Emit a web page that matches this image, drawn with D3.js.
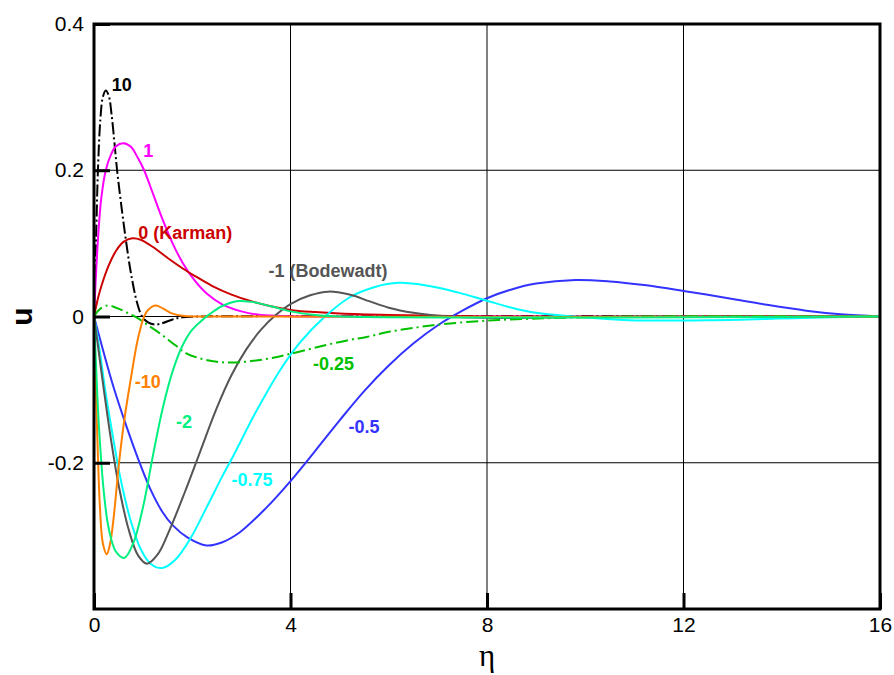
<!DOCTYPE html>
<html>
<head>
<meta charset="utf-8">
<script src="https://cdn.jsdelivr.net/npm/d3@7"></script>
<style>
  body { margin: 0; background: #fff; }
  svg { font-family: "Liberation Sans", Arial, sans-serif; }
</style>
</head>
<body>
<svg id="chart" width="894" height="675"></svg>
<script>
// values, [eta, u]
const sP10 = [[0,0],[0.04,0.1],[0.08,0.2],[0.13,0.27],[0.18,0.3],[0.24,0.309],[0.3,0.302],[0.36,0.275],[0.42,0.235],[0.47,0.2],[0.55,0.155],[0.64,0.109],[0.75,0.06],[0.88,0.018],[0.98,0],[1.1,-0.008],[1.25,-0.011],[1.4,-0.009],[1.6,-0.004],[1.8,-0.001],[2.2,0],[16,0]];
const sP1 = [[0,0],[0.05,0.07],[0.1,0.125],[0.15,0.163],[0.24,0.2],[0.35,0.222],[0.45,0.233],[0.6,0.237],[0.75,0.232],[0.9,0.216],[1.02,0.2],[1.2,0.168],[1.4,0.132],[1.6,0.1],[1.8,0.074],[2.04,0.05],[2.3,0.031],[2.6,0.017],[3.0,0.007],[3.4,0.002],[4,0.0005],[5,0],[16,0]];
const sP0 = [[0,0],[0.1,0.03],[0.2,0.052],[0.3,0.07],[0.45,0.09],[0.6,0.102],[0.78,0.107],[0.95,0.105],[1.2,0.095],[1.5,0.08],[1.8,0.066],[2.04,0.056],[2.4,0.042],[2.8,0.03],[3.2,0.021],[3.6,0.014],[4,0.009],[4.5,0.006],[5,0.004],[6,0.002],[7,0.001],[8,0],[16,0]];
const sM025 = [[0,0],[0.1,0.009],[0.27,0.015],[0.45,0.012],[0.65,0.006],[0.88,-0.002],[1.1,-0.012],[1.36,-0.024],[1.65,-0.039],[1.9,-0.051],[2.2,-0.058],[2.5,-0.062],[2.8,-0.063],[3.2,-0.061],[3.6,-0.057],[4,-0.051],[4.6,-0.041],[5.2,-0.032],[5.55,-0.028],[6.0,-0.021],[6.9,-0.012],[7.9,-0.006],[8.9,-0.003],[10,-0.001],[11,0],[16,0]];
const sM05 = [[0,0],[0.2,-0.05],[0.4,-0.097],[0.67,-0.152],[0.9,-0.195],[1.14,-0.235],[1.4,-0.268],[1.61,-0.286],[1.9,-0.302],[2.29,-0.313],[2.6,-0.309],[2.97,-0.295],[3.5,-0.262],[4.0,-0.225],[4.5,-0.184],[5.0,-0.142],[5.5,-0.102],[6.0,-0.067],[6.5,-0.037],[7.0,-0.012],[7.5,0.008],[8.0,0.025],[8.5,0.037],[9.0,0.045],[9.8,0.05],[10.5,0.048],[11.2,0.043],[12,0.035],[13,0.024],[13.7,0.016],[14.5,0.008],[15.2,0.003],[16,0]];
const sM075 = [[0,0],[0.1,-0.04],[0.25,-0.11],[0.4,-0.17],[0.55,-0.225],[0.75,-0.28],[0.95,-0.318],[1.15,-0.338],[1.39,-0.344],[1.65,-0.333],[1.95,-0.305],[2.3,-0.26],[2.6,-0.22],[2.84,-0.19],[3.3,-0.13],[3.82,-0.07],[4.2,-0.035],[4.67,-0.002],[5.2,0.026],[5.7,0.04],[6.2,0.046],[6.8,0.042],[7.4,0.033],[7.93,0.023],[8.5,0.012],[9.0,0.005],[9.76,0],[10.9,-0.005],[12.6,-0.005],[14.4,-0.002],[16,0]];
const sM1 = [[0,0],[0.1,-0.05],[0.2,-0.1],[0.35,-0.17],[0.5,-0.23],[0.7,-0.29],[0.9,-0.327],[1.08,-0.338],[1.3,-0.325],[1.55,-0.29],[1.85,-0.24],[2.16,-0.185],[2.5,-0.125],[2.8,-0.08],[3.1,-0.045],[3.4,-0.018],[3.7,0.002],[4.0,0.017],[4.4,0.029],[4.77,0.034],[5.2,0.03],[5.6,0.021],[6.0,0.012],[6.5,0.005],[7.0,0.001],[7.5,-0.001],[8.5,-0.002],[9.5,-0.001],[11,0],[16,0]];
const sM2 = [[0,0],[0.05,-0.08],[0.1,-0.15],[0.2,-0.24],[0.3,-0.29],[0.45,-0.322],[0.62,-0.33],[0.8,-0.31],[1.0,-0.26],[1.2,-0.19],[1.4,-0.125],[1.6,-0.075],[1.8,-0.04],[2.0,-0.018],[2.2,-0.005],[2.35,0.003],[2.6,0.014],[2.9,0.021],[3.2,0.02],[3.6,0.014],[4.0,0.007],[4.5,0.002],[5,0],[16,0]];
const sM10 = [[0,0],[0.03,-0.08],[0.07,-0.17],[0.12,-0.26],[0.18,-0.31],[0.26,-0.325],[0.33,-0.31],[0.4,-0.275],[0.51,-0.2],[0.62,-0.14],[0.75,-0.085],[0.87,-0.038],[0.95,-0.015],[1.02,0],[1.1,0.009],[1.26,0.015],[1.4,0.011],[1.6,0.004],[1.8,0.001],[2.2,0],[16,0]];

const seriesNames = ['10', '1', '0 (Karman)', '-0.5', '-0.75', '-1 (Bodewadt)', '-0.25', '-10', '-2'];
const seriesData = [sP10, sP1, sP0, sM05, sM075, sM1, sM025, sM10, sM2];

const xTicks = [0, 4, 8, 12, 16];
const yTicks = [-0.2, 0, 0.2, 0.4];
const yTickLabels = ['-0.2', '0', '0.2', '0.4'];

// styling, kept apart from the values
const colors = ['#000000', '#ff00ff', '#cc0000', '#3333ff', '#00ffff', '#555555', '#00c000', '#ff8000', '#00f080'];
const dashes = ['12,3,2,3', null, null, null, null, null, '12,4,2,4', null, null];
// label anchor (start of text, baseline) in data units
const labelAt = [[0.36, 0.308], [1.0, 0.218], [0.9, 0.106], [5.18, -0.159], [2.8, -0.232], [3.55, 0.054], [4.46, -0.073], [0.83, -0.098], [1.67, -0.152]];

const margin = { top: 24, right: 14, bottom: 66, left: 94 };
const width = 894 - margin.left - margin.right;
const height = 675 - margin.top - margin.bottom;

const svg = d3.select('#chart');
const g = svg.append('g').attr('transform', `translate(${margin.left},${margin.top})`);

const x = d3.scaleLinear().domain([0, 16]).range([0, width]);
const y = d3.scaleLinear().domain([-0.4, 0.4]).range([height, 0]);

g.append('clipPath').attr('id', 'clip')
  .append('rect').attr('width', width).attr('height', height);

// grid
g.append('g').selectAll('line').data([4, 8, 12]).enter().append('line')
  .attr('x1', d => x(d)).attr('x2', d => x(d)).attr('y1', 0).attr('y2', height)
  .attr('stroke', '#000').attr('stroke-width', 1);
g.append('g').selectAll('line').data([-0.2, 0, 0.2]).enter().append('line')
  .attr('y1', d => y(d)).attr('y2', d => y(d)).attr('x1', 0).attr('x2', width)
  .attr('stroke', '#000').attr('stroke-width', 1);

// curves
const line = d3.line().x(d => x(d[0])).y(d => y(d[1])).curve(d3.curveCatmullRom.alpha(0.5));
const curves = g.append('g').attr('clip-path', 'url(#clip)');
seriesData.forEach((s, i) => {
  curves.append('path')
    .attr('d', line(s))
    .attr('fill', 'none')
    .attr('stroke', colors[i])
    .attr('stroke-width', 2)
    .attr('stroke-dasharray', dashes[i]);
});

// curve labels
seriesNames.forEach((name, i) => {
  g.append('text')
    .attr('x', x(labelAt[i][0]))
    .attr('y', y(labelAt[i][1]))
    .attr('fill', colors[i])
    .attr('font-size', 18)
    .attr('font-weight', 'bold')
    .text(name);
});

// axes: ticks inside, labels outside
const xAxis = d3.axisBottom(x).tickValues(xTicks).tickSize(-16).tickPadding(8).tickFormat(d3.format('d'));
const yAxis = d3.axisLeft(y).tickValues(yTicks).tickSize(-16).tickPadding(10).tickFormat((d, i) => yTickLabels[i]);

const gx = g.append('g').attr('transform', `translate(0,${height})`).call(xAxis);
const gy = g.append('g').call(yAxis);
[gx, gy].forEach(a => {
  a.select('.domain').remove();
  a.selectAll('.tick line').attr('stroke', '#000').attr('stroke-width', 3);
  a.selectAll('.tick text').attr('font-size', 21).attr('fill', '#000')
    .attr('font-family', '"Liberation Sans", Arial, sans-serif');
});

// frame
g.append('rect').attr('width', width).attr('height', height)
  .attr('fill', 'none').attr('stroke', '#000').attr('stroke-width', 3);

// axis titles
g.append('text')
  .attr('x', width / 2).attr('y', height + 57)
  .attr('text-anchor', 'middle').attr('font-size', 31)
  .attr('font-family', '"Liberation Serif", serif')
  .text('η');
svg.append('text')
  .attr('transform', `translate(32,${margin.top + y(0)}) rotate(-90)`)
  .attr('text-anchor', 'middle').attr('font-size', 30).attr('font-weight', 'bold')
  .text('u');
</script>
</body>
</html>
